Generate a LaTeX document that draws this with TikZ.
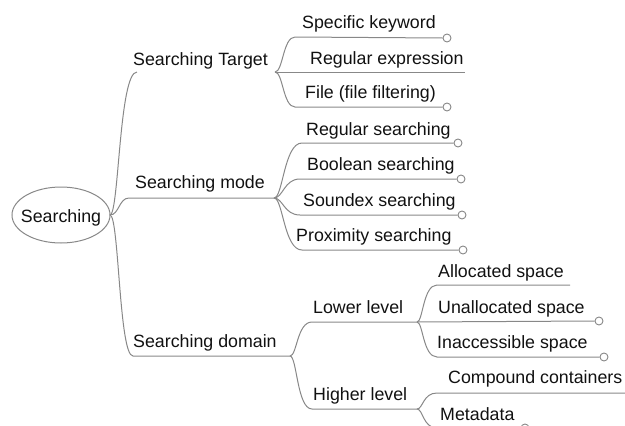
\documentclass[tikz,border=0pt]{standalone}
\usepackage{fontspec}
\setmainfont{Liberation Sans}
\definecolor{branch}{HTML}{888888}
\definecolor{ink}{HTML}{111111}
\tikzset{
  label/.style={anchor=base west, inner sep=0pt, text=ink, font=\fontsize{17.8pt}{21pt}\selectfont},
  link/.style={draw=branch, line width=1pt},
  tip/.style={circle, draw=branch, fill=white, line width=0.9pt, minimum size=8pt, inner sep=0pt}
}
\begin{document}
\begin{tikzpicture}[x=1pt, y=-1pt]
\clip (0,0) rectangle (625,426);

% root: text with an ellipse drawn round it
\node[anchor=base, inner sep=0pt, text=ink, font=\fontsize{17.8pt}{21pt}\selectfont] (root) at (61,222) {Searching};
\coordinate (rootC) at (61,215);
\draw[link] (rootC) ellipse [x radius=49, y radius=28];
\coordinate (rootE) at (110,215);

% first level labels
\node[label] (target) at (133,65) {Searching Target};
\node[label] (mode)   at (135,188) {Searching mode};
\node[label] (domain) at (133,347) {Searching domain};

% second level labels
\node[label] (kw)    at (302,28)  {Specific keyword};
\node[label] (regex) at (310,64)  {Regular expression};
\node[label] (file)  at (305,98)  {File (file filtering)};
\node[label] (regs)  at (306,135) {Regular searching};
\node[label] (bool)  at (307,170) {Boolean searching};
\node[label] (sndx)  at (303,206) {Soundex searching};
\node[label] (prox)  at (296,241) {Proximity searching};
\node[label] (low)   at (313,313) {Lower level};
\node[label] (high)  at (313,400) {Higher level};

% third level labels
\node[label] (alloc)   at (438,277) {Allocated space};
\node[label] (unalloc) at (438,313) {Unallocated space};
\node[label] (inacc)   at (437,348) {Inaccessible space};
\node[label] (comp)    at (448,383) {Compound containers};
\node[label] (meta)    at (440,420) {Metadata};

% hubs where branches split
\coordinate (hubT) at (275,72);
\coordinate (hubM) at (274,198);
\coordinate (hubD) at (290,356);
\coordinate (hubL) at (417,322);
\coordinate (hubH) at (417,409);

% end circles
\node[tip] (kwTip)      at (447,38)  {};
\node[tip] (fileTip)    at (447,107) {};
\node[tip] (regsTip)    at (458,143) {};
\node[tip] (boolTip)    at (461,179) {};
\node[tip] (sndxTip)    at (462,215) {};
\node[tip] (proxTip)    at (463,250) {};
\node[tip] (unallocTip) at (599,321) {};
\node[tip] (inaccTip)   at (604,357) {};
\node[tip] (metaTip)    at (525,428) {};

% root to first level
\draw[link] (rootE) .. controls +(9,0) and +(-18,0) .. (137,72);
\draw[link] (rootE) .. controls +(9,0) and +(-10,0) .. (129,198) -- (hubM);
\draw[link] (rootE) .. controls +(9,0) and +(-14,0) .. (133,356) -- (hubD);

% Searching Target
\draw[link] (hubT) .. controls +(8,0) and +(-12,0) .. (295,37) -- (kwTip.west);
\draw[link] (hubT) -- (465,72);
\draw[link] (hubT) .. controls +(8,0) and +(-12,0) .. (295,107) -- (fileTip.west);

% Searching mode
\draw[link] (hubM) .. controls +(9,0) and +(-18,0) .. (302,143) -- (regsTip.west);
\draw[link] (hubM) .. controls +(9,0) and +(-16,0) .. (300,179) -- (boolTip.west);
\draw[link] (hubM) .. controls +(9,0) and +(-16,0) .. (300,215) -- (sndxTip.west);
\draw[link] (hubM) .. controls +(9,0) and +(-18,0) .. (302,250) -- (proxTip.west);

% Searching domain
\draw[link] (hubD) .. controls +(7,0) and +(-15,0) .. (312,322) -- (hubL);
\draw[link] (hubD) .. controls +(7,0) and +(-15,0) .. (312,409) -- (hubH);

% Lower level
\draw[link] (hubL) .. controls +(6,0) and +(-14,0) .. (437,285) -- (570,285);
\draw[link] (hubL) -- (unallocTip.west);
\draw[link] (hubL) .. controls +(6,0) and +(-14,0) .. (437,357) -- (inaccTip.west);

% Higher level
\draw[link] (hubH) .. controls +(6,0) and +(-14,0) .. (437,393) -- (625,393);
\draw[link] (hubH) .. controls +(6,0) and +(-14,0) .. (437,428) -- (metaTip.west);
\end{tikzpicture}
\end{document}
